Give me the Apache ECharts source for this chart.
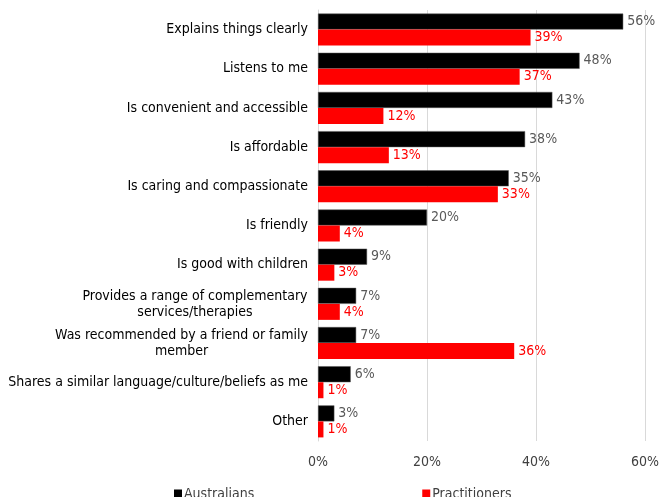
<!DOCTYPE html>
<html>
<head>
<meta charset="utf-8">
<script src="https://cdn.jsdelivr.net/npm/echarts@6/dist/echarts.min.js"></script>
<style>
  html, body { margin: 0; padding: 0; background: #fff; }
  #chart { width: 662px; height: 497px; }
</style>
</head>
<body>
<div id="chart"></div>
<script>
// Reasons for choosing a practitioner, top to bottom
const categories = [
  'Explains things clearly',
  'Listens to me',
  'Is convenient and accessible',
  'Is affordable',
  'Is caring and compassionate',
  'Is friendly',
  'Is good with children',
  'Provides a range of complementary\nservices/therapies',
  'Was recommended by a friend or family\nmember',
  'Shares a similar language/culture/beliefs as me',
  'Other'
];
const australians = [56, 48, 43, 38, 35, 20, 9, 7, 7, 6, 3];
const practitioners = [39, 37, 12, 13, 33, 4, 3, 4, 36, 1, 1];
const xTicks = [0, 20, 40, 60];

const FONT = '"Liberation Sans Narrow", "DejaVu Sans Condensed", "Liberation Sans", sans-serif';
const FONT_SIZE = 14;

// Measure text so wrapped labels can center their lines under the longest one
const ctx = document.createElement('canvas').getContext('2d');
ctx.font = FONT_SIZE + 'px ' + FONT;
function measure(s) { return Math.ceil(ctx.measureText(s).width); }

const richStyles = {};
categories.forEach((c, i) => {
  const lines = c.split('\n');
  if (lines.length > 1) {
    richStyles['m' + i] = {
      width: Math.max(...lines.map(measure)),
      align: 'center',
      fontFamily: FONT,
      fontSize: FONT_SIZE,
      color: '#000',
      lineHeight: 16
    };
  }
});

const chart = echarts.init(document.getElementById('chart'), null, { renderer: 'canvas' });
chart.setOption({
  animation: false,
  backgroundColor: '#fff',
  textStyle: { fontFamily: FONT },
  grid: { left: 318, right: 12, top: 10, bottom: 56, containLabel: false },
  legend: {
    data: [
      { name: 'Australians', itemStyle: { borderWidth: 0 } },
      { name: 'Practitioners', itemStyle: { borderWidth: 0 } }
    ],
    left: 174,
    top: 487,
    padding: 0,
    icon: 'rect',
    itemWidth: 8,
    itemHeight: 9,
    itemGap: 168,
    textStyle: { fontFamily: FONT, fontSize: 14, color: '#404040', padding: [0, 0, 0, -3] }
  },
  xAxis: {
    type: 'value',
    min: 0,
    max: 60,
    interval: 20,
    axisLine: { show: false },
    axisTick: { show: false },
    splitLine: { show: true, lineStyle: { color: '#d9d9d9', width: 1 } },
    axisLabel: {
      margin: 14,
      fontFamily: FONT,
      fontSize: FONT_SIZE,
      color: '#404040',
      formatter: v => xTicks.includes(v) ? v + '%' : ''
    }
  },
  yAxis: {
    type: 'category',
    inverse: true,
    data: categories,
    axisLine: { show: true, lineStyle: { color: '#d9d9d9' } },
    axisTick: { show: false },
    axisLabel: {
      margin: 10,
      fontFamily: FONT,
      fontSize: FONT_SIZE,
      color: '#000',
      lineHeight: 16,
      formatter: (v, i) => {
        const lines = v.split('\n');
        if (lines.length > 1) return lines.map(l => '{m' + i + '|' + l + '}').join('\n');
        return v;
      },
      rich: richStyles
    }
  },
  series: [
    {
      name: 'Australians',
      type: 'bar',
      data: australians,
      barWidth: 16,
      barGap: '0%',
      itemStyle: { color: '#000', borderColor: '#595959', borderWidth: 0.5 },
      label: {
        show: true,
        position: 'right',
        distance: 4,
        formatter: p => p.value + '%',
        fontFamily: FONT,
        fontSize: FONT_SIZE,
        color: '#595959'
      }
    },
    {
      name: 'Practitioners',
      type: 'bar',
      data: practitioners,
      barWidth: 16,
      barGap: '0%',
      itemStyle: { color: '#ff0000' },
      label: {
        show: true,
        position: 'right',
        distance: 4,
        formatter: p => p.value + '%',
        fontFamily: FONT,
        fontSize: FONT_SIZE,
        color: '#ff0000'
      }
    }
  ]
});
</script>
</body>
</html>
